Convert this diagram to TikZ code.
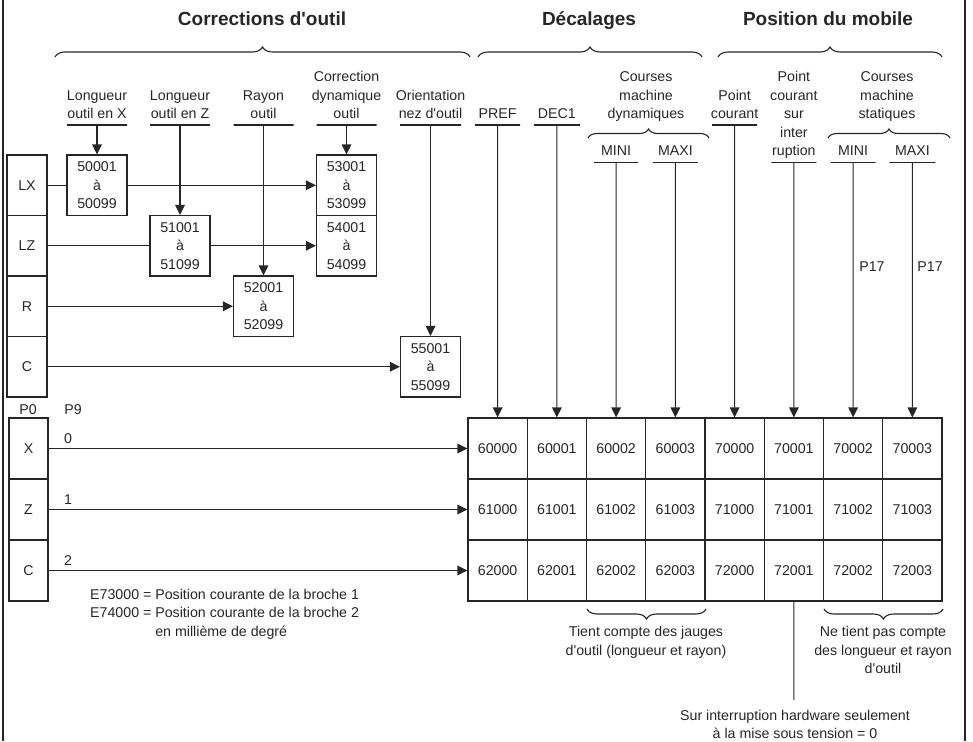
\documentclass[tikz,border=0pt]{standalone}
\usepackage{fontspec}
\setmainfont{Liberation Sans}
% plain family: keeps the straight apostrophe
\newfontfamily\lsans{Liberation Sans}
\usetikzlibrary{arrows.meta,decorations.pathreplacing}
\definecolor{ink}{HTML}{262626}

\begin{document}
\begin{tikzpicture}[x=1pt,y=-1pt,
  every node/.style={text=ink},
  txt/.style={font=\lsans\fontsize{14.2}{18.5}\selectfont, inner sep=0pt, align=center},
  hdr/.style={txt, anchor=south},
  ttl/.style={font=\lsans\bfseries\fontsize{19}{22}\selectfont, inner sep=0pt, anchor=base},
  ln/.style={draw=ink, line width=1.1pt},
  arr/.style={ln, -{Triangle[length=10pt,width=9.5pt]}},
  ul/.style={draw=ink, line width=1.1pt, inner sep=0pt, minimum height=0pt, minimum width=#1},
  rng/.style={txt, draw=ink, line width=1.1pt, minimum width=60pt, minimum height=60.5pt},
  lbox/.style={txt, draw=ink, line width=1.1pt, minimum width=40pt, minimum height=60.5pt},
  abox/.style={txt, draw=ink, line width=1.1pt, minimum width=39pt, minimum height=61pt},
  cell/.style={txt, draw=ink, line width=1.1pt, minimum width=59.25pt, minimum height=61pt},
  brc/.style={draw=ink, line width=1.1pt, decorate, decoration={brace, amplitude=#1}},
  brc/.default=10pt]

\useasboundingbox (0,0) rectangle (973,741);

% page frame (side rules)
\draw[ink, line width=2.2pt] (3,0) -- (3,741);
\draw[ink, line width=1.6pt] (965,0) -- (965,741);

% group titles and braces
\node[ttl] (tCorr) at (262,26) {Corrections d'outil};
\node[ttl] (tDec)  at (589,26) {Décalages};
\node[ttl] (tPos)  at (828,26) {Position du mobile};
\draw[brc] (55,57) -- (470,57);
\draw[brc] (478,57) -- (702,57);
\draw[brc] (718,57) -- (942,57);
\draw[brc=9pt] (588,138) -- (709,138);
\draw[brc=9pt] (828,138) -- (950,138);

% tool correction headers
\node[hdr] (hLX) at (97,124.5)    {Longueur\\outil en X\strut};
\node[hdr] (hLZ) at (180,124.5)   {Longueur\\outil en Z\strut};
\node[hdr] (hR)  at (263.5,124.5) {Rayon\\outil\strut};
\node[hdr] (hCD) at (346.5,124.5) {Correction\\dynamique\\outil\strut};
\node[hdr] (hON) at (430.5,124.5) {Orientation\\nez d'outil\strut};
\node[ul=60pt] (uLX) at (97,125) {};
\node[ul=60pt] (uLZ) at (180,125) {};
\node[ul=60pt] (uR)  at (263.5,125) {};
\node[ul=60pt] (uCD) at (346.5,125) {};
\node[ul=61pt] (uON) at (430.5,125) {};

% offset / position headers
\node[hdr] (hPREF) at (497.6,124.5) {PREF\strut};
\node[hdr] (hDEC)  at (556.9,124.5) {DEC1\strut};
\node[hdr] (hCMD)  at (646,124.5)   {Courses\\machine\\dynamiques\strut};
\node[hdr] (hMIN1) at (616.1,161.5) {MINI\strut};
\node[hdr] (hMAX1) at (675.4,161.5) {MAXI\strut};
\node[hdr] (hPC)   at (734.6,124.5) {Point\\courant\strut};
\node[hdr] (hPCI)  at (793.9,161.5) {Point\\courant\\sur\\inter\\ruption\strut};
\node[hdr] (hCMS)  at (887,124.5)   {Courses\\machine\\statiques\strut};
\node[hdr] (hMIN2) at (853.1,161.5) {MINI\strut};
\node[hdr] (hMAX2) at (912.4,161.5) {MAXI\strut};
\node[ul=45pt] (uPREF) at (497.6,125) {};
\node[ul=46pt] (uDEC)  at (556.9,125) {};
\node[ul=44pt] (uMIN1) at (616.1,162.3) {};
\node[ul=45pt] (uMAX1) at (675.4,162.3) {};
\node[ul=45pt] (uPC)   at (734.6,125) {};
\node[ul=45pt] (uPCI)  at (793.9,162.3) {};
\node[ul=45pt] (uMIN2) at (853.1,162.3) {};
\node[ul=46pt] (uMAX2) at (912.4,162.3) {};

\node[txt, anchor=base] (p17a) at (872,271.7) {P17};
\node[txt, anchor=base] (p17b) at (930,271.7) {P17};

% tool correction register blocks
\node[lbox] (bLX) at (27,185.25) {LX};
\node[lbox] (bLZ) at (27,245.75) {LZ};
\node[lbox] (bR)  at (27,306.25) {R};
\node[lbox] (bC)  at (27,366.75) {C};
\node[rng] (r50) at (97,185.25)    {50001\\à\\50099};
\node[rng] (r51) at (180,245.75)   {51001\\à\\51099};
\node[rng] (r52) at (263.5,306.25) {52001\\à\\52099};
\node[rng] (r53) at (346.5,185.25) {53001\\à\\53099};
\node[rng] (r54) at (346.5,245.75) {54001\\à\\54099};
\node[rng] (r55) at (430.5,366.75) {55001\\à\\55099};

\draw[arr] (uLX) -- (r50.north);
\draw[arr] (uLZ) -- (r51.north);
\draw[arr] (uR)  -- (r52.north);
\draw[arr] (uCD) -- (r53.north);
\draw[arr] (uON) -- (r55.north);
\draw[ln]  (bLX.east) -- (r50.west);
\draw[arr] (r50.east) -- (r53.west);
\draw[ln]  (bLZ.east) -- (r51.west);
\draw[arr] (r51.east) -- (r54.west);
\draw[arr] (bR.east)  -- (r52.west);
\draw[arr] (bC.east)  -- (r55.west);

% axis table
\foreach \r in {1,2,3} {
  \foreach \c in {1,...,8} {
    \pgfmathtruncatemacro\pa{\c<5 ? 6 : 7}
    \pgfmathtruncatemacro\pb{\r-1}
    \pgfmathtruncatemacro\pc{mod(\c-1,4)}
    \node[cell] (t\r\c) at ({468+59.25*(\c-0.5)}, {418+61*(\r-0.5)}) {\pa\pb00\pc};
  }
}
\foreach \u [count=\c] in {uPREF,uDEC,uMIN1,uMAX1,uPC,uPCI,uMIN2,uMAX2}
  \draw[arr] (\u) -- (t1\c.north);

% axis selectors
\node[txt, anchor=base] (p0) at (28,414) {P0};
\node[txt, anchor=base] (p9) at (73,414) {P9};
\node[abox] (bX)  at (28.5,448.5) {X};
\node[abox] (bZ)  at (28.5,509.5) {Z};
\node[abox] (bC2) at (28.5,570.5) {C};
\draw[arr] (bX.east)  -- (t11.west);
\draw[arr] (bZ.east)  -- (t21.west);
\draw[arr] (bC2.east) -- (t31.west);
\node[txt, anchor=base] (n0) at (68,443.3) {0};
\node[txt, anchor=base] (n1) at (68,504) {1};
\node[txt, anchor=base] (n2) at (68,565) {2};

\node[txt, align=left, anchor=north west] (nSpindle) at (90,586)
  {\strut E73000 = Position courante de la broche 1\\
   E74000 = Position courante de la broche 2\\
   \phantom{E74000 = }en millième de degré};

% notes under the table
\draw[brc] (706,609) -- (587,609);
\draw[brc] (943,609) -- (824,609);
\node[txt, anchor=north] (nTient) at (646,623.7)
  {\strut Tient compte des jauges\\d'outil (longueur et rayon)};
\node[txt, anchor=north] (nNeTient) at (883,623.7)
  {\strut Ne tient pas compte\\des longueur et rayon\\d'outil};
\coordinate (cSur) at (793.9,700);
\draw[ln] (t36.south) -- (cSur);
\node[txt, anchor=north] (nSur) at (795,707)
  {\strut Sur interruption hardware seulement\\à la mise sous tension = 0};

\end{tikzpicture}
\end{document}
